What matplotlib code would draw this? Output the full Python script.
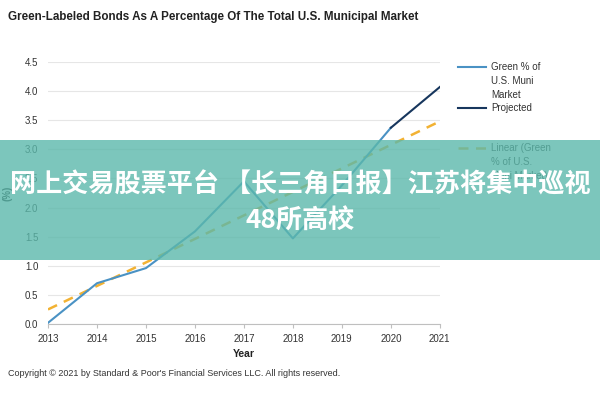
import numpy as np
import matplotlib
matplotlib.use('Agg')
import matplotlib.pyplot as plt
from matplotlib.patches import Rectangle
from matplotlib.lines import Line2D

plt.rcParams['font.family'] = ['Liberation Sans', 'DejaVu Sans']

# Datos
years = [2013, 2014, 2015, 2016, 2017, 2018, 2019, 2020]
green_pct = [0.02, 0.70, 0.96, 1.59, 2.45, 1.47, 2.38, 3.37]
proj_years = [2020, 2021]
proj_pct = [3.37, 4.07]
trend_years = [2013, 2021]
trend_pct = [0.25, 3.48]
xticks = [2013, 2014, 2015, 2016, 2017, 2018, 2019, 2020, 2021]
yticks = [0.0, 0.5, 1.0, 1.5, 2.0, 2.5, 3.0, 3.5, 4.0, 4.5]
legend_labels = ['Green % of\nU.S. Muni\nMarket', 'Projected', 'Linear (Green\n% of U.S.\nMuni Market)']

c_green = '#4a92c4'
c_proj = '#17365d'
c_trend = '#f2b233'
trend_ls = (0, (4, 3))

fig = plt.figure(figsize=(6, 4), dpi=100)
ax = fig.add_axes([0.08, 0.19, 0.653, 0.655])

ax.plot(years, green_pct, color=c_green, lw=1.5, zorder=3)
ax.plot(proj_years, proj_pct, color=c_proj, lw=1.5, zorder=3)
ax.plot(trend_years, trend_pct, color=c_trend, lw=1.8, ls=trend_ls, zorder=2)

ax.set_xlim(2013, 2021)
ax.set_ylim(0, 4.5)
ax.set_xticks(xticks)
ax.set_yticks(yticks)
ax.set_yticklabels(['%.1f' % v for v in yticks])
ax.tick_params(axis='both', labelsize=7, colors='#333333')
ax.tick_params(axis='y', length=0, pad=7)
ax.tick_params(axis='x', length=3, color='#bfbfbf', pad=4)
ax.grid(axis='y', color='#e6e6e6', lw=0.8)
ax.set_axisbelow(True)
for s in ['top', 'right', 'left']:
    ax.spines[s].set_visible(False)
ax.spines['bottom'].set_color('#bfbfbf')

ax.set_xlabel('Year', fontsize=7.5, fontweight='bold', color='#222222', labelpad=4)
ax.set_ylabel('(%)', fontsize=7, fontweight='bold', color='#222222', labelpad=9)

# leyenda a mano: el simbolo va alineado con la primera linea del texto
leg_y = [67, 108, 148]
leg_style = [(c_green, '-', 1.5), (c_proj, '-', 1.5), (c_trend, trend_ls, 1.8)]
for lab, y, (c, ls, lw) in zip(legend_labels, leg_y, leg_style):
    yf = 1 - y / 400
    fig.text(491 / 600, yf + 0.013, lab, fontsize=7, color='#333333', va='top',
             linespacing=1.5)
    fig.add_artist(Line2D([458 / 600, 486 / 600], [yf, yf], color=c, ls=ls, lw=lw,
                          transform=fig.transFigure))

fig.text(0.013, 0.958, 'Green-Labeled Bonds As A Percentage Of The Total U.S. Municipal Market',
         fontsize=8.4, fontweight='bold', color='#222222', va='center')
fig.text(0.013, 0.065, 'Copyright \u00a9 2021 by Standard & Poor\'s Financial Services LLC. All rights reserved.',
         fontsize=6.5, color='#333333', va='center')

# banda superpuesta
fig.patches.append(Rectangle((0, 0.35), 1, 0.30, transform=fig.transFigure,
                             facecolor='#5bb8ab', alpha=0.8, zorder=10))
cjk = ['Noto Sans CJK SC', 'DejaVu Sans']
fig.text(0.5, 0.538, '网上交易股票平台 【长三角日报】江苏将集中巡视', fontsize=18.8,
         fontweight='bold', color='white', ha='center', va='center', family=cjk, zorder=11)
fig.text(0.5, 0.447, '48所高校', fontsize=18.8, fontweight='bold', color='white',
         ha='center', va='center', family=cjk, zorder=11)

fig.savefig('out.png', dpi=100)
